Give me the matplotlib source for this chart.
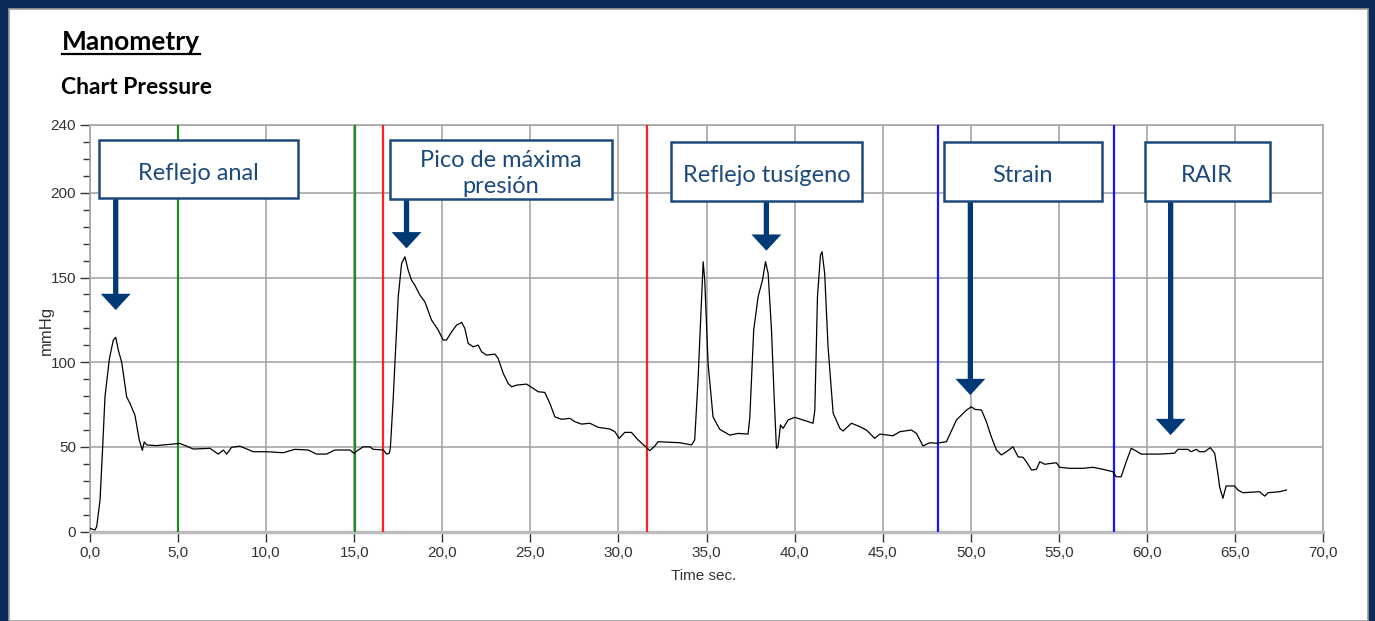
import matplotlib
matplotlib.use("Agg")
import matplotlib.pyplot as plt
from matplotlib.patches import Rectangle, FancyArrow
from matplotlib.lines import Line2D
from matplotlib.ticker import MultipleLocator, FuncFormatter

# pressure trace (time in s, pressure in mmHg)
time_s = [0.0, 0.28, 0.38, 0.57, 0.72, 0.85, 1.10, 1.32, 1.46, 1.61, 1.80, 2.08, 2.27,
          2.55, 2.80, 2.97, 3.08, 3.22, 3.78, 4.73, 5.10, 5.48, 5.86, 6.81, 7.28, 7.57,
          7.76, 8.04, 8.51, 9.27, 10.03, 10.97, 11.63, 12.39, 12.86, 13.43, 13.90, 14.76,
          14.98, 15.23, 15.52, 15.89, 16.08, 16.65, 16.84, 16.99, 17.05, 17.21, 17.31,
          17.50, 17.69, 17.88, 18.06, 18.25, 18.44, 18.73, 19.01, 19.39, 19.77, 20.05,
          20.24, 20.53, 20.81, 21.10, 21.28, 21.47, 21.76, 22.04, 22.23, 22.51, 22.99,
          23.17, 23.46, 23.74, 23.93, 24.22, 24.78, 25.16, 25.44, 25.82, 26.11, 26.39,
          26.77, 27.24, 27.53, 27.90, 28.38, 28.85, 29.51, 29.80, 30.04, 30.36, 30.74,
          31.12, 31.50, 31.78, 32.07, 32.25, 33.48, 34.15, 34.33, 34.52, 34.72, 34.81,
          34.90, 35.09, 35.37, 35.75, 36.32, 36.79, 37.36, 37.46, 37.68, 37.93, 38.18,
          38.35, 38.50, 38.69, 38.84, 38.97, 39.06, 39.20, 39.35, 39.63, 40.01, 40.48,
          41.05, 41.15, 41.30, 41.47, 41.56, 41.71, 41.90, 42.19, 42.57, 42.75, 43.23,
          43.70, 44.08, 44.55, 44.84, 45.59, 45.97, 46.63, 46.92, 47.29, 47.67, 48.05,
          48.62, 49.19, 49.47, 49.76, 50.04, 50.23, 50.61, 50.89, 51.17, 51.46, 51.74,
          52.03, 52.40, 52.69, 52.97, 53.16, 53.45, 53.73, 53.92, 54.20, 54.86, 55.05,
          55.62, 56.37, 56.94, 57.51, 58.07, 58.26, 58.54, 58.83, 59.11, 59.30, 59.68,
          60.72, 61.57, 61.76, 62.33, 62.52, 62.80, 62.99, 63.28, 63.60, 63.85, 64.03,
          64.13, 64.32, 64.50, 64.98, 65.17, 65.45, 66.40, 66.69, 66.88, 67.54, 67.92]
pressure = [2.0, 1.0, 3.0, 18.7, 50.0, 79.6, 102.0, 113.0, 114.7, 107.0, 100.0, 79.6, 75.7,
            68.8, 54.0, 48.0, 53.0, 51.2, 50.8, 51.7, 52.1, 50.5, 48.8, 49.2, 45.8, 48.2,
            45.8, 49.8, 50.5, 47.2, 47.2, 46.6, 48.6, 48.2, 45.8, 45.8, 48.2, 48.2,
            46.3, 48.2, 50.1, 50.1, 48.6, 48.2, 45.8, 46.3, 49.2, 77.7, 99.3,
            138.7, 158.3, 162.2, 154.4, 148.5, 145.5, 139.6, 135.7, 124.9, 119.0, 113.1,
            113.1, 118.0, 121.9, 123.5, 120.0, 111.1, 109.1, 110.1, 106.2, 104.2, 104.8,
            102.3, 93.4, 87.5, 85.5, 86.5, 87.1, 84.6, 82.6, 82.2, 75.7, 67.8,
            66.3, 66.9, 64.9, 63.5, 64.0, 61.6, 60.6, 59.0, 55.1, 58.6, 58.6,
            54.1, 50.6, 47.8, 50.6, 53.1, 52.5, 51.2, 54.1, 89.5, 138.7, 159.3,
            148.5, 99.3, 67.8, 60.4, 57.0, 58.0, 57.6, 67.8, 119.0, 138.7, 148.5,
            159.3, 152.4, 119.0, 79.6, 49.2, 50.1, 63.0, 61.0, 65.9, 67.5, 65.9,
            64.0, 71.8, 138.7, 163.2, 165.2, 152.4, 109.1, 69.9, 61.0, 59.4, 64.0,
            62.0, 60.0, 55.1, 57.6, 56.6, 59.0, 60.0, 58.0, 50.6, 52.5, 52.2,
            53.1, 65.9, 68.8, 71.8, 73.7, 72.2, 71.8, 64.9, 56.0, 48.2, 45.3,
            47.2, 50.1, 44.2, 43.9, 41.3, 36.4, 36.8, 41.3, 39.8, 40.7, 38.0,
            37.4, 37.4, 38.0, 36.8, 35.4, 32.4, 32.4, 41.3, 49.2, 48.2, 45.8,
            45.8, 46.3, 48.6, 48.6, 47.2, 48.6, 47.2, 47.2, 49.6, 46.3, 34.5,
            26.5, 19.7, 27.0, 27.0, 24.6, 23.0, 23.6, 21.0, 23.0, 23.6, 24.6]

# event markers (vertical lines)
marker_times = [5.0, 15.05, 16.65, 31.63, 48.15, 58.13]
marker_colors = ["#1f8a1f", "#1f8a1f", "#ff1f1f", "#ff1f1f", "#1414ff", "#1414ff"]

# callouts
labels = ["Reflejo anal", "Pico de máxima\npresión", "Reflejo tusígeno", "Strain", "RAIR"]
box_t = [(0.51, 11.79), (17.03, 29.64), (32.97, 43.83), (48.48, 57.45), (59.87, 66.97)]
box_p = [(196.7, 231.1), (196.5, 231.1), (195.3, 229.7), (195.3, 229.7), (195.3, 229.7)]
arrow_t = [1.46, 17.97, 38.4, 49.98, 61.35]
arrow_tip = [130.8, 167.2, 165.8, 80.6, 57.0]

W, H = 1375, 621
NAVY_TXT = "#1d4a7e"
NAVY_ARROW = "#003a76"
TICK_FONT = ["Liberation Sans Narrow", "Liberation Sans", "DejaVu Sans"]

fig = plt.figure(figsize=(W / 100, H / 100), dpi=100)
fig.patch.set_facecolor("#0b2a57")
fig.add_artist(Rectangle((9 / W, 0), (1368 - 9) / W, (H - 9) / H, transform=fig.transFigure,
                         facecolor="white", edgecolor="#9c9c9c", lw=1.2, zorder=-1))

ax = fig.add_axes([90 / W, 1 - 531.7 / H, (1323 - 90) / W, (531.7 - 125) / H])
ax.plot(time_s, pressure, color="black", lw=0.9, zorder=4)
for t, c in zip(marker_times, marker_colors):
    ax.axvline(t, color=c, lw=1.6, zorder=3)

ax.set_xlim(0, 70)
ax.set_ylim(0, 240)
ax.xaxis.set_major_locator(MultipleLocator(5))
ax.set_yticks([0, 50, 100, 150, 200, 240])
ax.yaxis.set_minor_locator(MultipleLocator(10))
ax.xaxis.set_major_formatter(FuncFormatter(lambda v, _: f"{v:.1f}".replace(".", ",")))
ax.grid(True, which="major", color="#a6a6a6", lw=1.2)
ax.set_axisbelow(True)
for side in ["top", "right", "left"]:
    ax.spines[side].set_color("#a6a6a6")
    ax.spines[side].set_linewidth(1.2)
ax.spines["bottom"].set_color("#bdbdbd")
ax.spines["bottom"].set_linewidth(2.5)
ax.tick_params(axis="both", which="major", length=7, width=1, color="#333333",
               labelcolor="#333333", pad=3)
ax.tick_params(axis="y", which="minor", length=5, width=1, color="#333333")
for lab in ax.get_xticklabels() + ax.get_yticklabels():
    lab.set_family(TICK_FONT)
    lab.set_fontsize(11)

ax.text(-0.0357, 0.496, "mmHg", transform=ax.transAxes, rotation=90, ha="center",
        va="center", fontsize=12, color="#333333", family=TICK_FONT)
fig.text(704 / W, 1 - 576.5 / H, "Time sec.", ha="center", va="center", fontsize=11,
         color="#333333", family=TICK_FONT)

# callout boxes and arrows
for lab, (t0, t1), (p0, p1), at, tip in zip(labels, box_t, box_p, arrow_t, arrow_tip):
    ax.add_patch(Rectangle((t0, p0), t1 - t0, p1 - p0, facecolor="white",
                           edgecolor=NAVY_TXT, lw=1.8, zorder=6, clip_on=False))
    ax.text((t0 + t1) / 2, (p0 + p1) / 2 - 2.5, lab, ha="center", va="center",
            fontsize=17, color=NAVY_TXT, family="Lato", linespacing=1.3, zorder=7)
    ax.add_patch(FancyArrow(at, p0, 0, tip - p0, width=0.3, head_width=1.7,
                            head_length=9.6, length_includes_head=True,
                            color=NAVY_ARROW, lw=0, zorder=5))

# headings
title = fig.text(62 / W, 1 - 50 / H, "Manometry", fontsize=19, fontweight="bold",
                 family="Lato", color="black", va="baseline")
fig.text(61 / W, 1 - 94 / H, "Chart Pressure", fontsize=16.5, fontweight="bold",
         family="Lato", color="black", va="baseline")
bb = title.get_window_extent(fig.canvas.get_renderer())
fig.add_artist(Line2D([bb.x0 / W, bb.x1 / W], [1 - 53.5 / H, 1 - 53.5 / H],
                      transform=fig.transFigure, color="black", lw=1.6))

fig.savefig("out.png", dpi=100, facecolor=fig.get_facecolor())
